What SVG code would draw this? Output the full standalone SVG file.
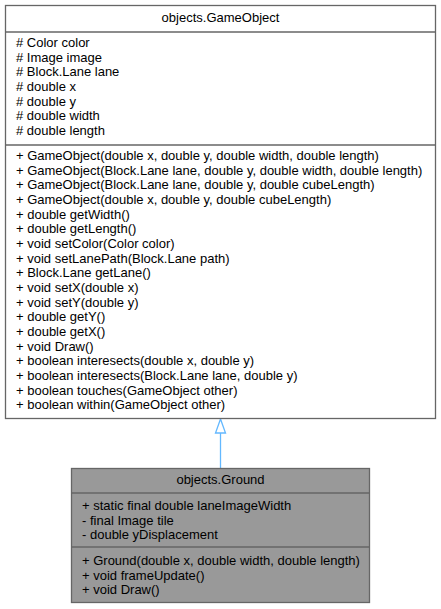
<svg xmlns="http://www.w3.org/2000/svg" width="441" height="609" viewBox="0 0 441 609">
<style>
text{font-family:"Liberation Sans",Arial,Helvetica,sans-serif;font-size:13px;fill:#000}
.c{text-anchor:middle}
.box{stroke:#666666;stroke-width:1.3}
.sep{stroke:#666666;stroke-width:1.3;fill:none}
.edge{stroke:#63b8ff;stroke-width:1.3;fill:none}
</style>
<rect width="441" height="609" fill="#ffffff"/>
<g id="connectors">
<line class="edge" x1="220.5" y1="433" x2="220.5" y2="468"/>
<polygon class="edge" fill="#ffffff" points="220.5,419 215.5,433 225.5,433"/>
</g>
<g id="GameObject">
<rect class="box" fill="#ffffff" x="5.5" y="5.5" width="430" height="413"/>
<line class="sep" x1="5.5" y1="32" x2="435.5" y2="32"/>
<line class="sep" x1="5.5" y1="145" x2="435.5" y2="145"/>
<text class="c" x="220.5" y="22">objects.GameObject</text>
<text x="16" y="47">
<tspan x="16" y="47"># Color color</tspan>
<tspan x="16" y="61.67"># Image image</tspan>
<tspan x="16" y="76.33"># Block.Lane lane</tspan>
<tspan x="16" y="91"># double x</tspan>
<tspan x="16" y="105.67"># double y</tspan>
<tspan x="16" y="120.33"># double width</tspan>
<tspan x="16" y="135"># double length</tspan>
</text>
<text x="16" y="160">
<tspan x="16" y="160">+ GameObject(double x, double y, double width, double length)</tspan>
<tspan x="16" y="174.67">+ GameObject(Block.Lane lane, double y, double width, double length)</tspan>
<tspan x="16" y="189.33">+ GameObject(Block.Lane lane, double y, double cubeLength)</tspan>
<tspan x="16" y="204">+ GameObject(double x, double y, double cubeLength)</tspan>
<tspan x="16" y="218.67">+ double getWidth()</tspan>
<tspan x="16" y="233.33">+ double getLength()</tspan>
<tspan x="16" y="248">+ void setColor(Color color)</tspan>
<tspan x="16" y="262.67">+ void setLanePath(Block.Lane path)</tspan>
<tspan x="16" y="277.33">+ Block.Lane getLane()</tspan>
<tspan x="16" y="292">+ void setX(double x)</tspan>
<tspan x="16" y="306.67">+ void setY(double y)</tspan>
<tspan x="16" y="321.33">+ double getY()</tspan>
<tspan x="16" y="336">+ double getX()</tspan>
<tspan x="16" y="350.67">+ void Draw()</tspan>
<tspan x="16" y="365.33">+ boolean interesects(double x, double y)</tspan>
<tspan x="16" y="380">+ boolean interesects(Block.Lane lane, double y)</tspan>
<tspan x="16" y="394.67">+ boolean touches(GameObject other)</tspan>
<tspan x="16" y="409.33">+ boolean within(GameObject other)</tspan>
</text>
</g>
<g id="Ground">
<rect class="box" fill="#999999" x="71.5" y="468.5" width="298" height="134"/>
<line class="sep" x1="71.5" y1="493" x2="369.5" y2="493"/>
<line class="sep" x1="71.5" y1="547" x2="369.5" y2="547"/>
<text class="c" x="220.5" y="484">objects.Ground</text>
<text x="82" y="510">
<tspan x="82" y="510">+ static final double laneImageWidth</tspan>
<tspan x="82" y="524.5">- final Image tile</tspan>
<tspan x="82" y="539">- double yDisplacement</tspan>
</text>
<text x="82" y="565">
<tspan x="82" y="565">+ Ground(double x, double width, double length)</tspan>
<tspan x="82" y="579.5">+ void frameUpdate()</tspan>
<tspan x="82" y="594">+ void Draw()</tspan>
</text>
</g>
</svg>
